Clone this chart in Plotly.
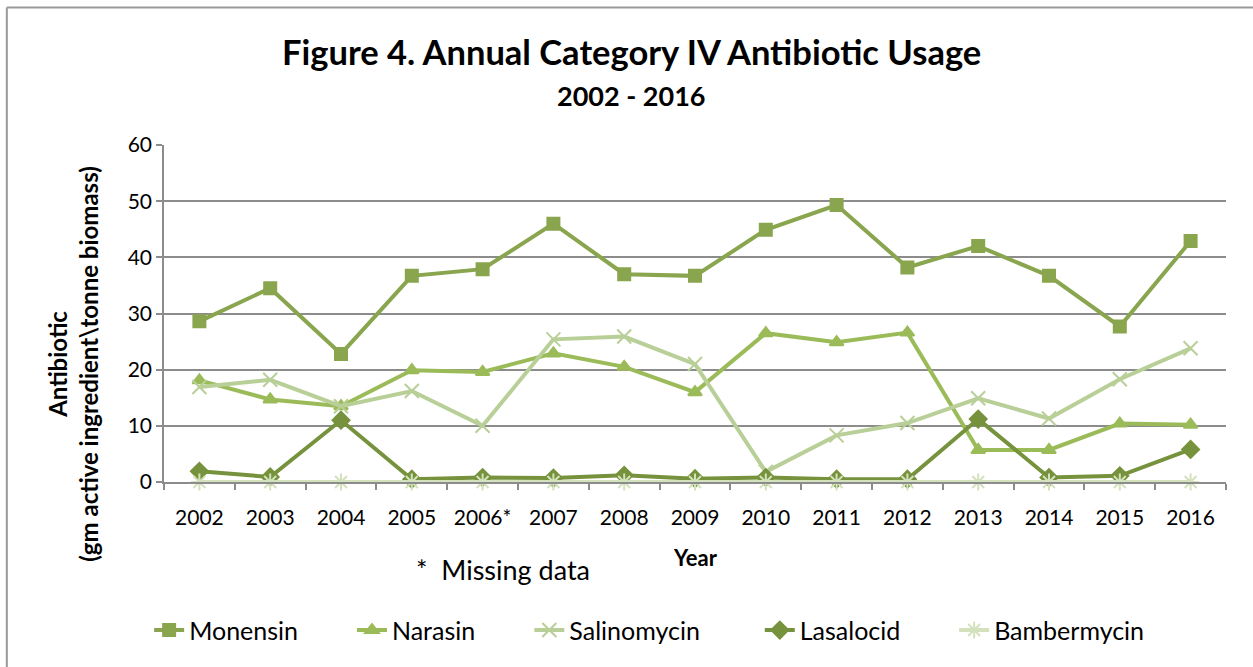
import plotly.graph_objects as go

years = ["2002", "2003", "2004", "2005", "2006*", "2007", "2008", "2009",
         "2010", "2011", "2012", "2013", "2014", "2015", "2016"]

monensin = [28.6, 34.5, 22.8, 36.7, 37.9, 46.0, 37.0, 36.7,
            44.9, 49.3, 38.2, 42.0, 36.7, 27.7, 42.9]
narasin = [18.1, 14.7, 13.5, 19.9, 19.6, 22.9, 20.5, 16.0,
           26.5, 24.9, 26.6, 5.7, 5.7, 10.4, 10.2]
salinomycin = [16.9, 18.2, 13.5, 16.2, 10.0, 25.4, 25.9, 21.0,
               1.8, 8.3, 10.5, 14.9, 11.3, 18.3, 23.8]
lasalocid = [1.9, 0.9, 11.0, 0.5, 0.8, 0.7, 1.2, 0.6,
             0.8, 0.5, 0.5, 11.2, 0.8, 1.1, 5.8]
bambermycin = [0, 0, 0, 0, 0, 0, 0, 0, 0, 0, 0, 0, 0, 0, 0]

FONT = "Lato"
GRID = "#8c8c8c"

# name, values, colour, marker, size, legend x (paper)
series = [
    ("Monensin", monensin, "#89a54e", "square", 12, -0.014),
    ("Narasin", narasin, "#9bbb59", "triangle-up", 12, 0.177),
    ("Salinomycin", salinomycin, "#b9cf98", "x-thin-open", 14, 0.344),
    ("Lasalocid", lasalocid, "#76923c", "diamond", 13, 0.561),
    ("Bambermycin", bambermycin, "#d3e2bd", "asterisk-open", 14, 0.744),
]

fig = go.Figure()
legends = {}
for i, (name, vals, col, sym, sz, lx) in enumerate(series):
    key = "legend" if i == 0 else "legend%d" % (i + 1)
    fig.add_trace(go.Scatter(
        x=years, y=vals, name=name, mode="lines+markers",
        line=dict(color=col, width=4),
        marker=dict(symbol=sym, size=sz, color=col,
                    line=dict(color=col, width=2)),
        cliponaxis=False, legend=key,
    ))
    legends[key] = dict(orientation="h", x=lx, xanchor="left", y=-0.44,
                        yanchor="middle", font=dict(size=25),
                        bgcolor="rgba(0,0,0,0)")

fig.update_layout(
    width=1253, height=667,
    margin=dict(l=164, r=27, t=145, b=185, autoexpand=False),
    paper_bgcolor="white", plot_bgcolor="white",
    font=dict(family=FONT, size=21, color="black"),
    showlegend=True,
    xaxis=dict(type="category", range=[-0.5, len(years) - 0.5],
               showgrid=False, showline=True,
               linecolor=GRID, linewidth=1.5, ticks="outside",
               tickson="boundaries", ticklen=6, tickcolor=GRID,
               tickwidth=1.5, ticklabelstandoff=16, tickangle=0,
               tickfont=dict(size=21)),
    yaxis=dict(range=[0, 60], dtick=10, showgrid=True, gridcolor=GRID,
               gridwidth=1.5, showline=True, linecolor=GRID, linewidth=1.5,
               ticks="outside", ticklen=6, tickcolor=GRID, tickwidth=1.5,
               zeroline=False, tickfont=dict(size=21)),
    **legends,
)

notes = [
    ("<b>Figure 4. Annual Category IV Antibiotic Usage</b>", 0.44, 1.276, 34.5, 0),
    ("<b>2002 - 2016</b>", 0.44, 1.148, 27, 0),
    ("<b>Antibiotic<br>(gm active ingredient\\tonne biomass)</b>", -0.086, 0.35, 24, -90),
    ("<b>Year</b>", 0.5, -0.223, 22, 0),
    ("*  Missing data", 0.319, -0.261, 27, 0),
]
for txt, ax, ay, fs, ang in notes:
    fig.add_annotation(text=txt, xref="paper", yref="paper", x=ax, y=ay,
                       xanchor="center", yanchor="middle", textangle=ang,
                       showarrow=False, font=dict(size=fs))

# outer chart border (only top and left visible in frame)
fig.add_shape(type="line", xref="paper", yref="paper",
              x0=-0.148, x1=1.1, y0=1.408, y1=1.408,
              line=dict(color="#999999", width=2))
fig.add_shape(type="line", xref="paper", yref="paper",
              x0=-0.148, x1=-0.148, y0=1.408, y1=-0.6,
              line=dict(color="#999999", width=2))

fig.write_html("out.html", config={"displayModeBar": False},
               post_script="document.body.style.margin='0';"
                           "document.body.style.overflow='hidden';")
